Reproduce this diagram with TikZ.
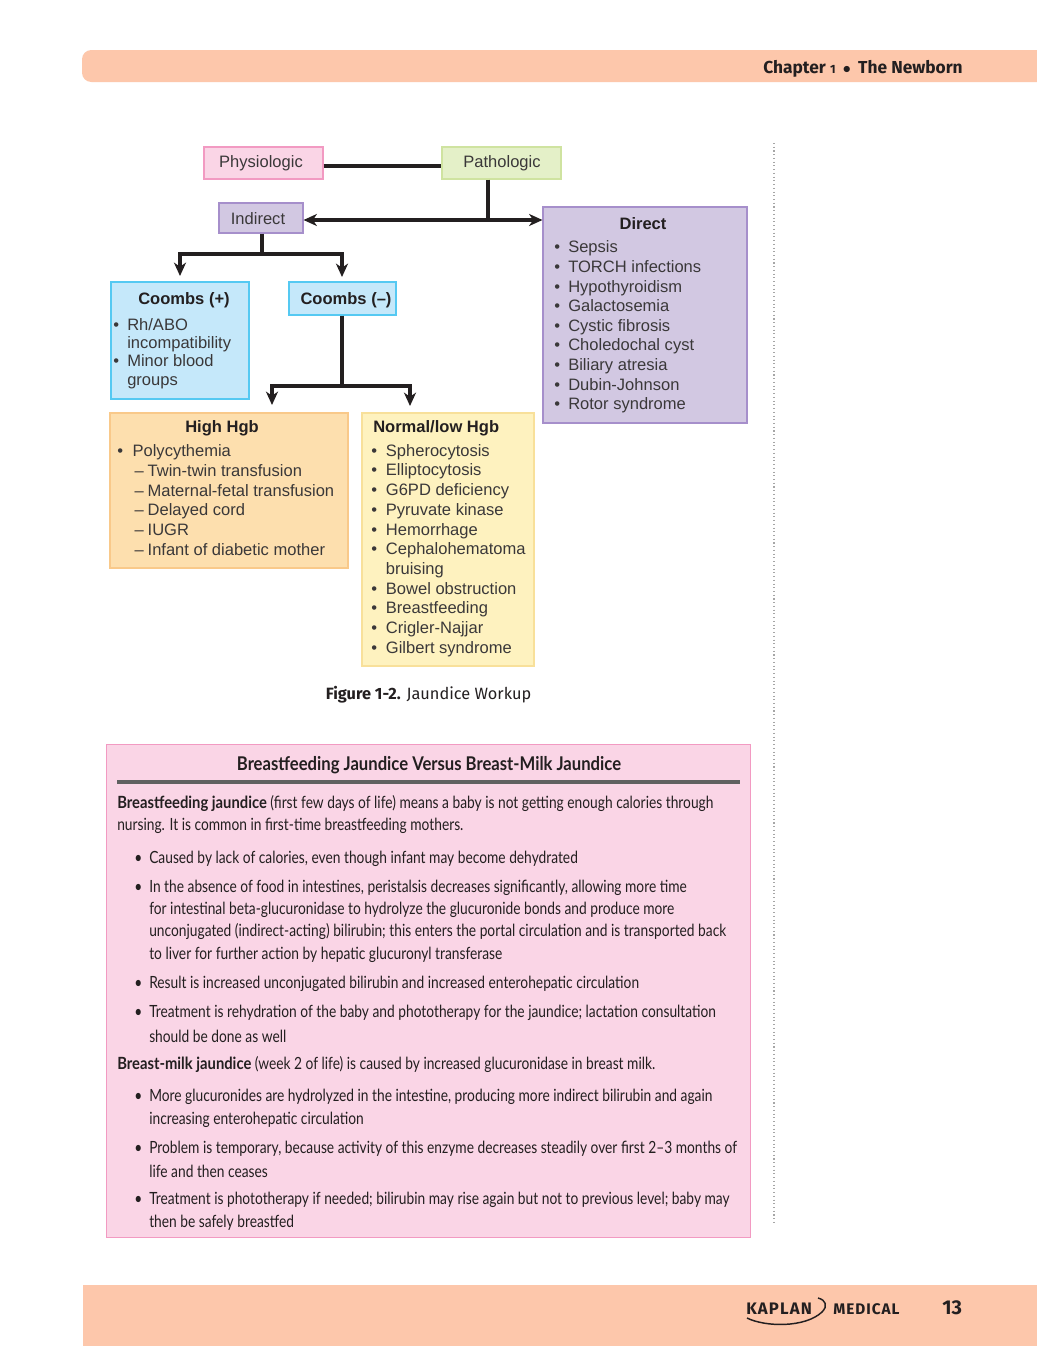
\documentclass[tikz,border=0pt]{standalone}
\usepackage{fontspec}
\usetikzlibrary{arrows.meta}
\setmainfont{Liberation Sans}
\newfontfamily\bodyfont[FakeStretch=0.82,BoldFeatures={FakeStretch=0.88}]{Lato}
\newfontfamily\headfont{Fira Sans}
\definecolor{band}{HTML}{FDC7AB}
\definecolor{ink}{HTML}{231F20}
\definecolor{txt}{HTML}{3A3839}
\definecolor{pinkf}{HTML}{FAD5E6}\definecolor{pinkd}{HTML}{F29AC2}
\definecolor{greenf}{HTML}{E4F0C8}\definecolor{greend}{HTML}{CFE3A0}
\definecolor{purpf}{HTML}{D2C8E2}\definecolor{purpd}{HTML}{A68FCB}
\definecolor{bluef}{HTML}{C5E8FA}\definecolor{blued}{HTML}{55C9F2}
\definecolor{orf}{HTML}{FDDFAE}\definecolor{ord}{HTML}{F9C98A}
\definecolor{yelf}{HTML}{FEF2BF}\definecolor{yeld}{HTML}{F8E09A}
\tikzset{
  x=0.75pt,y=-0.75pt,
  fcbox/.style={draw=#1d,fill=#1f,line width=0.8pt,inner sep=0pt},
  lab/.style={inner sep=0pt,text=txt,yshift=-0.9pt,font=\fontsize{12.4}{14.7}\selectfont},
  blab/.style={lab,text=ink,font=\fontsize{12.4}{14.7}\selectfont\bfseries},
  lst/.style={inner sep=0pt,text=txt,anchor=north west,align=left,font=\fontsize{12.4}{14.7}\selectfont},
  bl/.style={inner sep=0pt,text=ink,anchor=west,yshift=-1.5pt,font=\bodyfont\fontsize{12.6}{15}\selectfont},
  conn/.style={draw=ink,line width=2.3pt},
  arr/.style={conn,-{Stealth[length=10pt,width=9pt,inset=3pt]}},
  arrb/.style={conn,{Stealth[length=10pt,width=9pt,inset=3pt]}-{Stealth[length=10pt,width=9pt,inset=3pt]}},
}
\newcommand{\bxnode}[6]{\node[fcbox=#2,minimum width={(#5-#3)*0.75pt},minimum height={(#6-#4)*0.75pt}] (#1) at ({(#3+#5)/2},{(#4+#6)/2}) {};}
\newcommand{\bitem}[2][11]{\strut\makebox[#1pt][l]{•}#2}
\newcommand{\subit}[1]{\strut\hspace{13pt}\makebox[9.8pt][l]{–}#1}
\begin{document}
\begin{tikzpicture}
\useasboundingbox (0,0) rectangle (1037,1346);
\fill[white] (0,0) rectangle (1037,1346);
% page bands
\fill[band,rounded corners=7pt] (1037,50) -- (82,50) -- (82,82) -- (1037,82);
\fill[band] (83,1285) rectangle (1037,1346);
\node[anchor=east,inner sep=0pt,text=ink,font=\headfont\bfseries\fontsize{13}{15}\selectfont] (chap) at (963,68.5) {Chapter {\small 1}\hspace{5.5pt}{\fontsize{12}{12}\selectfont$\bullet$}\hspace{5.5pt}The Newborn};
\draw[gray!70,line width=0.8pt,dotted] (774,143) -- (774,1222);
% flow boxes
\bxnode{phys}{pink}{204}{147}{323}{179}
\bxnode{path}{green}{442}{147}{561}{179}
\bxnode{ind}{purp}{219}{203}{303}{233}
\bxnode{dir}{purp}{543}{207}{747}{423}
\bxnode{cplus}{blue}{111}{282}{249}{399}
\bxnode{cminus}{blue}{289}{282}{396}{315}
\bxnode{high}{or}{110}{413}{348}{568}
\bxnode{norm}{yel}{362}{413}{534}{666}
% labels
\node[lab] (physl) at (261,162) {Physiologic};
\node[lab] (pathl) at (502,162) {Pathologic};
\node[lab] (indl) at (258,217) {Indirect};
\node[blab] (cminusl) at (346,299) {Coombs (–)};
\node[blab] (cplusl) at (184,299) {Coombs (+)};
\node[blab] (dirl) at (643,222) {Direct};
\node[blab] (highl) at (222,427) {High Hgb};
\node[blab,anchor=west] (norml) at (373,427) {Normal/low Hgb};
% lists
\node[lst] (dirt) at (554,239) {\bitem[10.5]{Sepsis}\\\bitem[10.5]{TORCH infections}\\\bitem[10.5]{Hypothyroidism}\\\bitem[10.5]{Galactosemia}\\\bitem[10.5]{Cystic fibrosis}\\\bitem[10.5]{Choledochal cyst}\\\bitem[10.5]{Biliary atresia}\\\bitem[10.5]{Dubin-Johnson}\\\bitem[10.5]{Rotor syndrome}};
\node[lst,font=\fontsize{12.4}{13.75}\selectfont] (cplust) at (113,317) {\bitem[10.5]{Rh/ABO}\\\strut\hspace{10.5pt}incompatibility\\\bitem[10.5]{Minor blood}\\\strut\hspace{10.5pt}groups};
\node[lst,font=\fontsize{12.4}{14.8}\selectfont] (hight) at (117,442.5) {\bitem[11.5]{Polycythemia}\\\subit{Twin-twin transfusion}\\\subit{Maternal-fetal transfusion}\\\subit{Delayed cord}\\\subit{IUGR}\\\subit{Infant of diabetic mother}};
\node[lst,font=\fontsize{12.4}{14.8}\selectfont] (normt) at (371,442) {\bitem[11]{Spherocytosis}\\\bitem[11]{Elliptocytosis}\\\bitem[11]{G6PD deficiency}\\\bitem[11]{Pyruvate kinase}\\\bitem[11]{Hemorrhage}\\\bitem[11]{Cephalohematoma}\\\strut\hspace{11pt}bruising\\\bitem[11]{Bowel obstruction}\\\bitem[11]{Breastfeeding}\\\bitem[11]{Crigler-Najjar}\\\bitem[11]{Gilbert syndrome}};
% connectors
\coordinate (jphys) at (330,166);
\coordinate (jpath) at (488,220);
\coordinate (jind) at (262,254);
\coordinate (tipa) at (180,276);
\coordinate (tipb) at (342,277);
\coordinate (jcm) at (342,386);
\coordinate (tipc) at (272,405);
\coordinate (tipd) at (410,406);
\draw[conn] (phys.east |- jphys) -- (path.west |- jphys);
\draw[conn] (path.south -| jpath) -- (jpath);
\draw[arrb] (ind.east |- jpath) -- (dir.west |- jpath);
\draw[conn] (ind.south -| jind) -- (jind);
\draw[arr] (jind) -| (tipa);
\draw[arr] (jind) -| (tipb);
\draw[conn] (cminus.south -| jcm) -- (jcm);
\draw[arr] (jcm) -| (tipc);
\draw[arr] (jcm) -| (tipd);
% caption
\node[inner sep=0pt,text=ink,font=\headfont\fontsize{12.25}{15}\selectfont] (cap) at (428.5,694.5) {\textbf{Figure 1-2.} Jaundice Workup};
% text box
\node[draw=pinkd,fill=pinkf,line width=0.9pt,inner sep=0pt,minimum width={644*0.75pt},minimum height={493*0.75pt}] (bb) at (428.5,991) {};
\node[inner sep=0pt,text=ink,yshift=-1.5pt,font=\bodyfont\bfseries\fontsize{14.2}{16}\selectfont] (bbt) at (429,763) {Breastfeeding Jaundice Versus Breast-Milk Jaundice};
\fill[gray!75!black] (117,780) rectangle (740,783.5);
\node[bl] (l1) at (117,802) {\textbf{Breastfeeding jaundice} (first few days of life) means a baby is not getting enough calories through};
\node[bl] (l2) at (117,824) {nursing. It is common in first-time breastfeeding mothers.};
\node[bl] (b3) at (134,857) {•}; \node[bl] (l3) at (149,857) {Caused by lack of calories, even though infant may become dehydrated};
\node[bl] (b4) at (134,886) {•}; \node[bl] (l4) at (149,886) {In the absence of food in intestines, peristalsis decreases significantly, allowing more time};
\node[bl] (l5) at (149,908) {for intestinal beta-glucuronidase to hydrolyze the glucuronide bonds and produce more};
\node[bl] (l6) at (149,930) {unconjugated (indirect-acting) bilirubin; this enters the portal circulation and is transported back};
\node[bl] (l7) at (149,953) {to liver for further action by hepatic glucuronyl transferase};
\node[bl] (b8) at (134,982) {•}; \node[bl] (l8) at (149,982) {Result is increased unconjugated bilirubin and increased enterohepatic circulation};
\node[bl] (b9) at (134,1011) {•}; \node[bl] (l9) at (149,1011) {Treatment is rehydration of the baby and phototherapy for the jaundice; lactation consultation};
\node[bl] (l10) at (149,1034) {should be done as well};
\node[bl] (l11) at (117,1063) {\textbf{Breast-milk jaundice} (week 2 of life) is caused by increased glucuronidase in breast milk.};
\node[bl] (b12) at (134,1095) {•}; \node[bl] (l12) at (149,1095) {More glucuronides are hydrolyzed in the intestine, producing more indirect bilirubin and again};
\node[bl] (l13) at (149,1118) {increasing enterohepatic circulation};
\node[bl] (b14) at (134,1147) {•}; \node[bl] (l14) at (149,1147) {Problem is temporary, because activity of this enzyme decreases steadily over first 2–3 months of};
\node[bl] (l15) at (149,1169) {life and then ceases};
\node[bl] (b16) at (134,1198) {•}; \node[bl] (l16) at (149,1198) {Treatment is phototherapy if needed; bilirubin may rise again but not to previous level; baby may};
\node[bl] (l17) at (149,1221) {then be safely breastfed};
% footer
\node[anchor=west,inner sep=0pt,text=ink,font=\headfont\bfseries\fontsize{12.5}{14}\selectfont\addfontfeature{LetterSpace=7}] (kap) at (746,1309) {KAPLAN};
\node[anchor=west,inner sep=0pt,text=ink,font=\headfont\bfseries\fontsize{11.5}{14}\selectfont\addfontfeature{LetterSpace=6.5}] (med) at (833,1309) {MEDICAL};
\node[anchor=west,inner sep=0pt,text=ink,font=\headfont\bfseries\fontsize{15}{16}\selectfont] (pg) at (942,1308) {13};
\draw[ink,line width=1.1pt] (747,1318) .. controls (765,1327) and (805,1328) .. (822,1312) .. controls (828,1306) and (826,1300) .. (818,1298);
\end{tikzpicture}
\end{document}
